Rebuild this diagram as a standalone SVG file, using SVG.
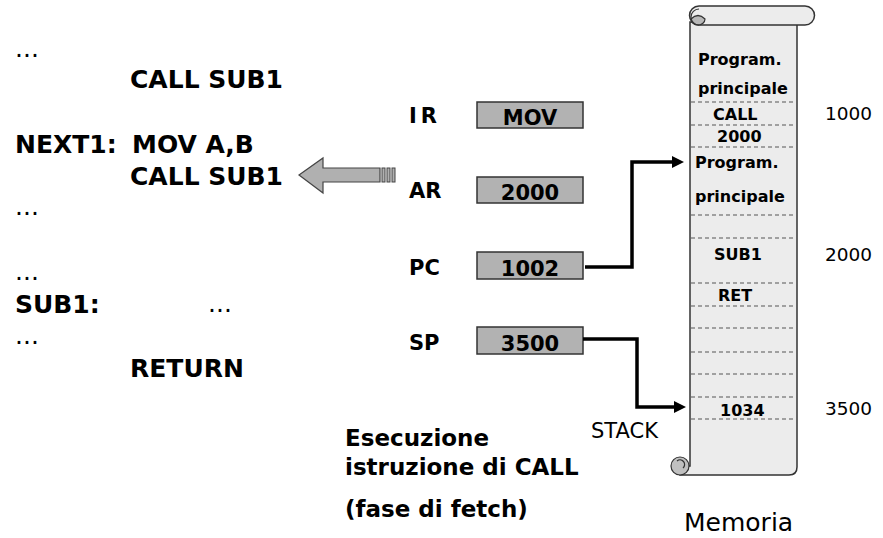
<svg xmlns="http://www.w3.org/2000/svg" width="883" height="538" viewBox="0 0 883 538">
<style>
.code{font-family:"DejaVu Sans",Verdana,sans-serif;font-weight:bold;font-size:25px;fill:#000}
.dots{font-family:"DejaVu Sans",Verdana,sans-serif;font-size:25px;fill:#000}
.reg{font-family:"DejaVu Sans",Verdana,sans-serif;font-weight:bold;font-size:21px;fill:#000}
.boxt{font-family:"DejaVu Sans",Verdana,sans-serif;font-weight:bold;font-size:21px;fill:#000;text-anchor:middle}
.mem{font-family:"DejaVu Sans",Verdana,sans-serif;font-weight:bold;font-size:16px;fill:#000}
.addr{font-family:"DejaVu Sans",Verdana,sans-serif;font-size:18.5px;fill:#000}
.cap{font-family:"DejaVu Sans",Verdana,sans-serif;font-weight:bold;font-size:23px;fill:#000}
.box{fill:#b2b2b2;stroke:#333;stroke-width:1.5}
.dash{stroke:#555;stroke-width:1;stroke-dasharray:4 3;fill:none}
.conn{fill:none;stroke:#000;stroke-width:3.5;stroke-linejoin:miter}
.scroll{fill:#ececec;stroke:#333;stroke-width:1.5}
</style>
<defs>
<marker id="ah" markerUnits="userSpaceOnUse" markerWidth="13" markerHeight="12" refX="2" refY="6" orient="auto">
<path d="M0,0 L12,6 L0,12 Z" fill="#000"/>
</marker>
</defs>
<rect width="883" height="538" fill="#fff"/>

<g id="code">
<text class="dots" x="15" y="57">...</text>
<text class="code" x="130" y="88">CALL SUB1</text>
<text class="code" x="15" y="153">NEXT1:</text>
<text class="code" x="132" y="153">MOV A,B</text>
<text class="code" x="130" y="185">CALL SUB1</text>
<text class="dots" x="15" y="215">...</text>
<text class="dots" x="15" y="280">...</text>
<text class="code" x="15" y="313">SUB1:</text>
<text class="dots" x="208" y="312">...</text>
<text class="dots" x="15" y="344">...</text>
<text class="code" x="130" y="377">RETURN</text>
</g>

<g id="block-arrow">
<polygon points="299,175 323,158 323,168 380,168 380,182 323,182 323,193" fill="#b0b0b0" stroke="#444" stroke-width="1.2"/>
<rect x="382" y="168" width="3" height="14" fill="#b0b0b0" stroke="#444" stroke-width="1"/>
<rect x="387" y="168" width="3" height="14" fill="#b0b0b0" stroke="#444" stroke-width="1"/>
<rect x="392" y="168" width="3" height="14" fill="#b0b0b0" stroke="#444" stroke-width="1"/>
</g>

<g id="IR">
<text class="reg" x="409" y="123" letter-spacing="4">IR</text>
<rect class="box" x="477" y="102" width="106" height="26"/>
<text class="boxt" x="530" y="125">MOV</text>
</g>
<g id="AR">
<text class="reg" x="409" y="198">AR</text>
<rect class="box" x="477" y="177" width="106" height="26"/>
<text class="boxt" x="530" y="200">2000</text>
</g>
<g id="PC">
<text class="reg" x="409" y="275">PC</text>
<rect class="box" x="477" y="252" width="106" height="27"/>
<text class="boxt" x="530" y="276">1002</text>
</g>
<g id="SP">
<text class="reg" x="409" y="350">SP</text>
<rect class="box" x="477" y="327" width="106" height="27"/>
<text class="boxt" x="530" y="351">3500</text>
</g>

<g id="memoria">
<path class="scroll" d="M690,22 H797 V467 Q797,475 789,475 H680 A9,9 0 0 1 690,466 Z"/>
<path class="scroll" d="M699,6 H805 A9.5,9.5 0 0 1 805,25 H699 A9.5,9.5 0 0 1 699,6 Z"/>
<path d="M691,19 A7,6 0 0 0 705,19 Q698,12 691,19 Z" fill="#b8b8b8" stroke="#333" stroke-width="1.2"/>
<path d="M699,25 A8,8 0 0 1 699,9" fill="none" stroke="#333" stroke-width="1.2"/>
<circle cx="680" cy="466" r="9" fill="#c0c0c0" stroke="#333" stroke-width="1.2"/>
<path d="M677,461 A4,4 0 1 1 683,468" fill="none" stroke="#333" stroke-width="1.2"/>
<line class="dash" x1="691" y1="102" x2="796" y2="102"/>
<line class="dash" x1="691" y1="125" x2="796" y2="125"/>
<line class="dash" x1="691" y1="147" x2="796" y2="147"/>
<line class="dash" x1="691" y1="215" x2="796" y2="215"/>
<line class="dash" x1="691" y1="238" x2="796" y2="238"/>
<line class="dash" x1="691" y1="283" x2="796" y2="283"/>
<line class="dash" x1="691" y1="306" x2="796" y2="306"/>
<line class="dash" x1="691" y1="328" x2="796" y2="328"/>
<line class="dash" x1="691" y1="352" x2="796" y2="352"/>
<line class="dash" x1="691" y1="374" x2="796" y2="374"/>
<line class="dash" x1="691" y1="397" x2="796" y2="397"/>
<line class="dash" x1="691" y1="419" x2="796" y2="419"/>
<text class="mem" x="698" y="65">Program.</text>
<text class="mem" x="698" y="94">principale</text>
<text class="mem" x="713" y="120">CALL</text>
<text class="mem" x="717" y="142">2000</text>
<text class="mem" x="695" y="168">Program.</text>
<text class="mem" x="695" y="202">principale</text>
<text class="mem" x="714" y="260">SUB1</text>
<text class="mem" x="718" y="301">RET</text>
<text class="mem" x="720" y="416">1034</text>
<text class="addr" x="825" y="120">1000</text>
<text class="addr" x="825" y="261">2000</text>
<text class="addr" x="825" y="415">3500</text>
<text class="addr" x="591" y="438" style="font-size:21px">STACK</text>
<text class="addr" x="684" y="531" style="font-size:25px">Memoria</text>
</g>

<g id="connectors">
<polyline class="conn" points="585,267 632,267 632,162 674,162" marker-end="url(#ah)"/>
<polyline class="conn" points="583,339 637,339 637,407 676,407" marker-end="url(#ah)"/>
</g>

<g id="caption">
<text class="cap" x="345" y="446">Esecuzione</text>
<text class="cap" x="345" y="475">istruzione di CALL</text>
<text class="cap" x="345" y="517">(fase di fetch)</text>
</g>
</svg>
